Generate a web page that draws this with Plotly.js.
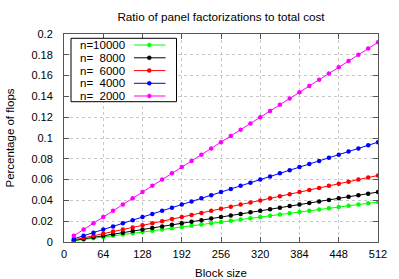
<!DOCTYPE html>
<html><head><meta charset="utf-8">
<script src="https://cdn.plot.ly/plotly-3.0.1.min.js"></script>
<style>html,body{margin:0;padding:0;background:#fff}#c{width:399px;height:279px}</style>
</head><body><div id="c"></div>
<script>
var blockSizes = [16,32,48,64,80,96,112,128,144,160,176,192,208,224,240,256,272,288,304,320,336,352,368,384,400,416,432,448,464,480,496,512];
var seriesNames = ["n=10000","n=\u00a0\u00a08000","n=\u00a0\u00a06000","n=\u00a0\u00a04000","n=\u00a0\u00a02000"];
var colors = ["#00ff00","#000000","#ff0000","#0000ff","#ff00ff"];
var n10000 = [0.0012,0.0024,0.0036,0.0048,0.006,0.0072,0.0084,0.0096,0.0108,0.012,0.0132,0.0144,0.0156,0.0168,0.018,0.0192,0.0204,0.0216,0.0228,0.024,0.0252,0.0264,0.0276,0.0288,0.03,0.0312,0.0324,0.0336,0.0348,0.036,0.0372,0.0384];
var n8000 = [0.0015,0.003,0.0045,0.006,0.0075,0.009,0.0105,0.012,0.0135,0.015,0.0165,0.018,0.0195,0.021,0.0225,0.024,0.0255,0.027,0.0285,0.03,0.0315,0.033,0.0345,0.036,0.0375,0.039,0.0405,0.042,0.0435,0.045,0.0465,0.048];
var n6000 = [0.002,0.004,0.006,0.008,0.01,0.012,0.014,0.016,0.018,0.02,0.022,0.024,0.026,0.028,0.03,0.032,0.034,0.036,0.038,0.04,0.042,0.044,0.046,0.048,0.05,0.052,0.054,0.056,0.058,0.06,0.062,0.064];
var n4000 = [0.003,0.006,0.009,0.012,0.015,0.018,0.021,0.024,0.027,0.03,0.033,0.036,0.039,0.042,0.045,0.048,0.051,0.054,0.057,0.06,0.063,0.066,0.069,0.072,0.075,0.078,0.081,0.084,0.087,0.09,0.093,0.096];
var n2000 = [0.006,0.012,0.018,0.024,0.03,0.036,0.042,0.048,0.054,0.06,0.066,0.072,0.078,0.084,0.09,0.096,0.102,0.108,0.114,0.12,0.126,0.132,0.138,0.144,0.15,0.156,0.162,0.168,0.174,0.18,0.186,0.192];
var xTicks = [0,64,128,192,256,320,384,448,512];
var series = [n10000,n8000,n6000,n4000,n2000];

var W=399,H=279,mL=64,mR=21,mT=34,mB=37;
var pw=W-mL-mR, ph=H-mT-mB;
function px(x){return (x-mL)/pw;}
function py(y){return (H-mB-y)/ph;}
var FONT='Liberation Sans, Arial, sans-serif';

var traces = series.map(function(s,i){
  return {x:blockSizes,y:s,type:'scatter',mode:'lines+markers',name:seriesNames[i],
    line:{color:colors[i],width:1},marker:{color:colors[i],size:4.5},showlegend:false,hoverinfo:'skip'};
});

var shapes=[{type:'rect',xref:'paper',yref:'paper',x0:px(71),x1:px(176.5),y0:py(38.3),y1:py(101.7),
  line:{color:'#000',width:1},fillcolor:'#fff',layer:'above'}];
var annotations=[];
var rows=[45,57.8,70.6,83.3,96];
seriesNames.forEach(function(nm,i){
  var y=rows[i];
  shapes.push({type:'line',xref:'paper',yref:'paper',x0:px(134),x1:px(165.5),y0:py(y),y1:py(y),line:{color:colors[i],width:1},layer:'above'});
  shapes.push({type:'circle',xref:'paper',yref:'paper',x0:px(147.3),x1:px(151.3),y0:py(y-2),y1:py(y+2),line:{color:colors[i],width:0.5},fillcolor:colors[i],layer:'above'});
  annotations.push({xref:'paper',yref:'paper',x:px(126.5),y:py(y),xanchor:'right',yanchor:'middle',text:nm,showarrow:false,
    font:{family:FONT,size:11.5,color:'#000'}});
});

var axisCommon={showline:true,linecolor:'#555',linewidth:1,mirror:'ticks',ticks:'inside',ticklen:5,tickcolor:'#555',
  showgrid:true,gridcolor:'#c8c8c8',griddash:'dot',gridwidth:1,zeroline:false,
  tickfont:{family:FONT,size:11,color:'#000'}};

var layout={width:W,height:H,margin:{l:mL,r:mR,t:mT,b:mB},paper_bgcolor:'#fff',plot_bgcolor:'#fff',
  title:{text:'Ratio of panel factorizations to total cost',x:0.5,xref:'paper',y:1-17/H,yanchor:'middle',
    font:{family:FONT,size:11.7,color:'#000'}},
  xaxis:Object.assign({},axisCommon,{range:[0,512],tickvals:xTicks,ticktext:xTicks.map(String),ticklabelstandoff:2,
    title:{text:'Block size',standoff:9,font:{family:FONT,size:11.5,color:'#000'}}}),
  yaxis:Object.assign({},axisCommon,{range:[0,0.2],dtick:0.02,tick0:0,ticklabelstandoff:8,
    title:{text:'Percentage of flops',standoff:14,font:{family:FONT,size:11.5,color:'#000'}}}),
  shapes:shapes,annotations:annotations,showlegend:false};

Plotly.newPlot('c',traces,layout,{displayModeBar:false,staticPlot:true});
</script></body></html>
